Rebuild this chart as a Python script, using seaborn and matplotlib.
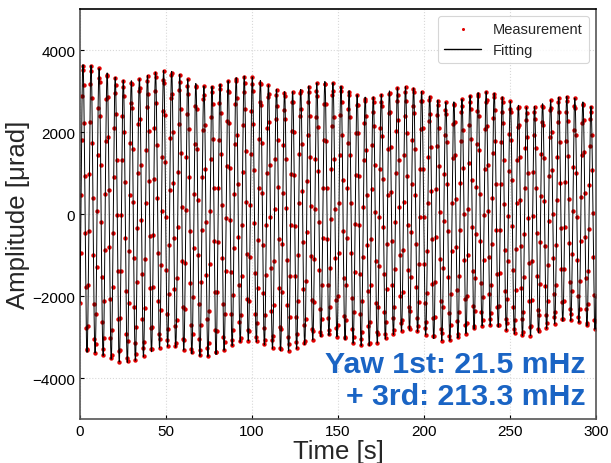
import numpy as np
import pandas as pd
import matplotlib
matplotlib.use("Agg")
import matplotlib.pyplot as plt
import seaborn as sns

# ---- fitted model parameters ----
f1_hz = 0.0215          # Yaw 1st mode frequency
f3_hz = 0.2133          # 3rd mode frequency
amp1 = 160.0            # µrad, 1st mode amplitude
amp3 = 3520.0           # µrad, 3rd mode amplitude at t=0
tau3 = 1120.0           # s, decay time of 3rd mode
t_peak1 = 4.0           # s, time of a 1st-mode maximum
t_peak3 = 1.7           # s, time of a 3rd-mode maximum
offset = -25.0          # µrad
t_start, t_end = 0.0, 300.0
sample_dt = 0.3         # s, measurement sampling
fit_dt = 0.05           # s, fit curve resolution

x_ticks = [0, 50, 100, 150, 200, 250, 300]
y_ticks = [-4000, -2000, 0, 2000, 4000]
label_line1 = "Yaw 1st: 21.5 mHz"
label_line2 = "+ 3rd: 213.3 mHz"


def model(t):
    return (offset
            + amp1 * np.cos(2 * np.pi * f1_hz * (t - t_peak1))
            + amp3 * np.exp(-t / tau3) * np.cos(2 * np.pi * f3_hz * (t - t_peak3)))


t_meas = np.arange(t_start, t_end + 1e-9, sample_dt)
t_fit = np.arange(t_start, t_end + 1e-9, fit_dt)
meas = pd.DataFrame({"t": t_meas, "y": model(t_meas)})
fit = pd.DataFrame({"t": t_fit, "y": model(t_fit)})

sns.set_style("white")
plt.rcParams["font.family"] = ["Liberation Sans", "DejaVu Sans"]

fig = plt.figure(figsize=(6.11, 4.64), dpi=100)
ax = fig.add_axes([0.131, 0.0948, 0.8445, 0.8836])

sns.scatterplot(data=meas, x="t", y="y", ax=ax, color="#e00000", s=10,
                linewidth=0, label="Measurement", zorder=2)
sns.lineplot(data=fit, x="t", y="y", ax=ax, color="black", linewidth=0.7,
             label="Fitting", zorder=3, estimator=None, sort=False)

ax.set_xlim(0, 300)
ax.set_ylim(-5000, 5000)
ax.set_xticks(x_ticks)
ax.set_yticks(y_ticks)
ax.grid(True, linestyle=":", color="#d8d8d8", linewidth=0.8)
ax.tick_params(direction="in", length=3, labelsize=11, colors="black",
               bottom=True, left=True)
for side in ["left", "bottom", "right"]:
    ax.spines[side].set_color("#555555")
    ax.spines[side].set_linewidth(1.2)
ax.spines["top"].set_color("black")
ax.spines["top"].set_linewidth(1.2)

ax.set_xlabel("Time [s]", fontsize=18.5, labelpad=1)
ax.set_ylabel("Amplitude [μrad]", fontsize=18.5, labelpad=2)

ax.text(0.979, 0.1146, label_line1, transform=ax.transAxes, ha="right",
        va="baseline", fontsize=21.8, color="#1a64c4", fontweight="bold", zorder=5)
ax.text(0.979, 0.0366, label_line2, transform=ax.transAxes, ha="right",
        va="baseline", fontsize=21.8, color="#1a64c4", fontweight="bold", zorder=5)

handles, labels = ax.get_legend_handles_labels()
order = [labels.index("Measurement"), labels.index("Fitting")]
leg = ax.legend([handles[i] for i in order], [labels[i] for i in order],
                loc="upper right", fontsize=10.5, frameon=True, fancybox=True,
                edgecolor="#cccccc", markerscale=0.7, handlelength=2.6,
                borderaxespad=0.5)
leg.get_frame().set_linewidth(0.8)
leg.legend_handles[1].set_linewidth(1.0)

fig.savefig("out.png", dpi=100)
